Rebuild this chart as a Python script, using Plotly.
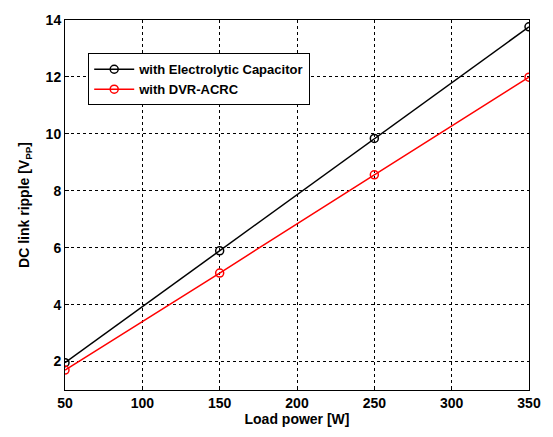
import plotly.graph_objects as go

load_power = [50, 150, 250, 350]
ripple_electrolytic = [1.96, 5.89, 9.84, 13.76]
ripple_dvr_acrc = [1.70, 5.11, 8.56, 11.99]

font_fam = "Liberation Sans, Arial, sans-serif"

fig = go.Figure()
fig.add_trace(go.Scatter(x=load_power, y=ripple_electrolytic, mode="lines+markers",
                         name="with Electrolytic Capacitor",
                         line=dict(color="black", width=1.5),
                         marker=dict(symbol="circle-open", size=8, color="black", line=dict(width=1.5))))
fig.add_trace(go.Scatter(x=load_power, y=ripple_dvr_acrc, mode="lines+markers",
                         name="with DVR-ACRC",
                         line=dict(color="#ff0000", width=1.5),
                         marker=dict(symbol="circle-open", size=8, color="#ff0000", line=dict(width=1.5))))

axis_common = dict(showgrid=True, gridcolor="black", griddash="dot", gridwidth=1,
                   showline=True, linecolor="black", linewidth=1, mirror=True,
                   ticks="inside", ticklen=4, tickcolor="black", zeroline=False,
                   tickfont=dict(family=font_fam, size=14, color="black", weight="bold"))

fig.update_xaxes(range=[50, 350], tickvals=[50, 100, 150, 200, 250, 300, 350],
                 title=dict(text="<b>Load power [W]</b>", standoff=4,
                            font=dict(family=font_fam, size=14, color="black")),
                 **axis_common)
fig.update_yaxes(range=[1, 14], tickvals=[2, 4, 6, 8, 10, 12, 14],
                 title=dict(text="<b>DC link ripple [V<sub>PP</sub>]</b>", standoff=12,
                            font=dict(family=font_fam, size=14, color="black")),
                 **axis_common)

fig.update_layout(
    width=553, height=437,
    margin=dict(l=65, r=20, t=16, b=39),
    paper_bgcolor="white", plot_bgcolor="white",
    showlegend=True,
    legend=dict(x=0.05, y=0.91, xanchor="left", yanchor="top",
                bgcolor="white", bordercolor="black", borderwidth=1,
                font=dict(family=font_fam, size=13, color="black", weight="bold"),
                tracegroupgap=0, itemwidth=40),
)

fig.write_html("out.html")
